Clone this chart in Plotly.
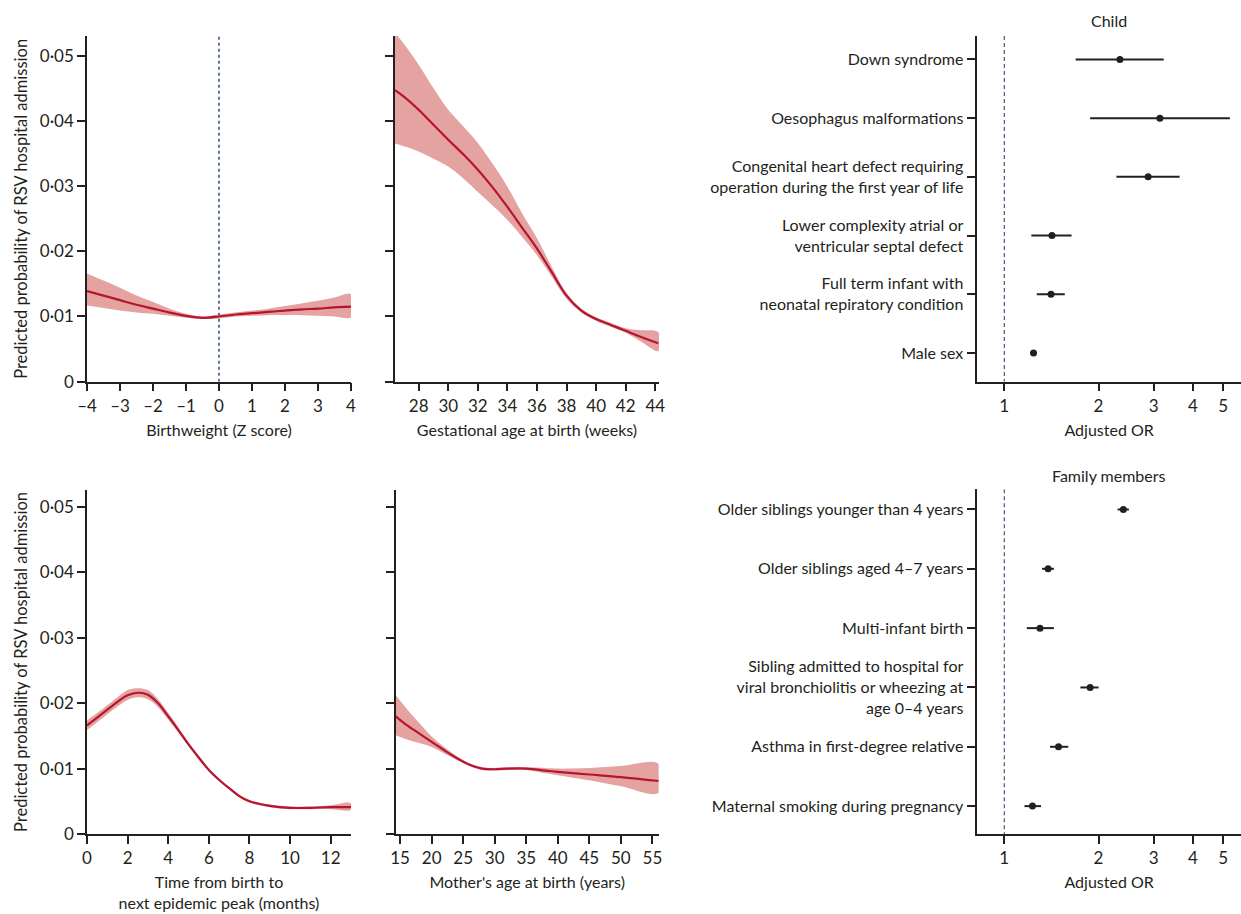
import math
import plotly.graph_objects as go

# ---------------- data ----------------
# Birthweight (Z score)
bw_x = [-4, -3.5, -3, -2.5, -2, -1.5, -1, -0.5, 0, 0.5, 1, 1.5, 2, 2.5, 3, 3.5, 4]
bw_mid = [0.0139, 0.0132, 0.0125, 0.0118, 0.0112, 0.0106, 0.0101, 0.0098, 0.0100, 0.0103,
          0.0105, 0.0107, 0.0109, 0.0111, 0.0112, 0.0114, 0.0115]
bw_lo = [0.0117, 0.0113, 0.0109, 0.0106, 0.0104, 0.0101, 0.0098, 0.0096, 0.0097, 0.0100,
         0.0101, 0.0102, 0.0102, 0.0102, 0.0101, 0.0100, 0.0099]
bw_hi = [0.0166, 0.0155, 0.0144, 0.0132, 0.0122, 0.0112, 0.0104, 0.0100, 0.0103, 0.0106,
         0.0109, 0.0112, 0.0116, 0.0120, 0.0124, 0.0129, 0.0134]

# Gestational age at birth (weeks)
ga_x = [26.4, 27, 28, 29, 30, 31, 32, 33, 34, 35, 36, 37, 38, 39, 40, 41, 42, 43, 44.2]
ga_mid = [0.0447, 0.0437, 0.0417, 0.0394, 0.0371, 0.0349, 0.0325, 0.0298, 0.0268, 0.0236,
          0.0204, 0.0168, 0.0132, 0.0109, 0.0096, 0.0087, 0.0078, 0.0069, 0.0059]
ga_lo = [0.0365, 0.0361, 0.0353, 0.0342, 0.0330, 0.0312, 0.0291, 0.0270, 0.0248, 0.0222,
         0.0194, 0.0161, 0.0127, 0.0106, 0.0093, 0.0084, 0.0075, 0.0062, 0.0047]
ga_hi = [0.0535, 0.0518, 0.0486, 0.0450, 0.0417, 0.0392, 0.0366, 0.0334, 0.0299, 0.0258,
         0.0220, 0.0176, 0.0136, 0.0112, 0.0099, 0.0090, 0.0082, 0.0079, 0.0076]

# Time from birth to next epidemic peak (months)
tm_x = [0, 0.5, 1, 1.5, 2, 2.5, 3, 3.5, 4, 4.5, 5, 5.5, 6, 6.5, 7, 7.5, 8, 9, 10, 11, 12, 13]
tm_mid = [0.0166, 0.0178, 0.0190, 0.0202, 0.0212, 0.0216, 0.0213, 0.0200, 0.0180, 0.0159,
          0.0137, 0.0117, 0.0098, 0.0083, 0.0070, 0.0058, 0.0050, 0.0043, 0.0040, 0.0040,
          0.0041, 0.0041]
tm_lo = [0.0159, 0.0171, 0.0183, 0.0195, 0.0205, 0.0209, 0.0206, 0.0194, 0.0175, 0.0155,
         0.0134, 0.0114, 0.0096, 0.0081, 0.0068, 0.0056, 0.0048, 0.0041, 0.0038, 0.0038,
         0.0038, 0.0037]
tm_hi = [0.0174, 0.0185, 0.0197, 0.0209, 0.0220, 0.0223, 0.0220, 0.0206, 0.0185, 0.0163,
         0.0140, 0.0120, 0.0100, 0.0085, 0.0072, 0.0060, 0.0052, 0.0045, 0.0042, 0.0042,
         0.0044, 0.0047]

# Mother's age at birth (years)
ma_x = [14.3, 16, 18, 20, 22, 24, 26, 28, 30, 32, 35, 38, 40, 45, 50, 56]
ma_mid = [0.0180, 0.0167, 0.0154, 0.0141, 0.0128, 0.0116, 0.0106, 0.0100, 0.0099, 0.0100,
          0.0100, 0.0097, 0.0095, 0.0091, 0.0087, 0.0081]
ma_lo = [0.0151, 0.0145, 0.0139, 0.0133, 0.0123, 0.0113, 0.0104, 0.0098, 0.0097, 0.0098,
         0.0098, 0.0093, 0.0090, 0.0082, 0.0073, 0.0063]
ma_hi = [0.0212, 0.0192, 0.0170, 0.0149, 0.0133, 0.0119, 0.0108, 0.0102, 0.0101, 0.0102,
         0.0102, 0.0101, 0.0100, 0.0101, 0.0104, 0.0107]

# Forest plot: Child
child_labels = ["Down syndrome",
                "Oesophagus malformations",
                "Congenital heart defect requiring<br>operation during the first year of life",
                "Lower complexity atrial or<br>ventricular septal defect",
                "Full term infant with<br>neonatal repiratory condition",
                "Male sex"]
child_or = [2.34, 3.14, 2.88, 1.42, 1.41, 1.24]
child_lo = [1.69, 1.88, 2.28, 1.22, 1.27, 1.21]
child_hi = [3.23, 5.25, 3.63, 1.64, 1.56, 1.27]

# Forest plot: Family members
fam_labels = ["Older siblings younger than 4 years",
              "Older siblings aged 4–7 years",
              "Multi-infant birth",
              "Sibling admitted to hospital for<br>viral bronchiolitis or wheezing at<br>age 0–4 years",
              "Asthma in first-degree relative",
              "Maternal smoking during pregnancy"]
fam_or = [2.40, 1.38, 1.30, 1.88, 1.49, 1.23]
fam_lo = [2.30, 1.32, 1.18, 1.75, 1.40, 1.16]
fam_hi = [2.50, 1.44, 1.44, 2.00, 1.60, 1.31]

prob_ticks = [0, 0.01, 0.02, 0.03, 0.04, 0.05]
prob_ticktext = ["0", "0·01", "0·02", "0·03", "0·04", "0·05"]
bw_ticks = [-4, -3, -2, -1, 0, 1, 2, 3, 4]
bw_ticktext = ["–4", "–3", "–2", "–1", "0", "1", "2", "3", "4"]
ga_ticks = [28, 30, 32, 34, 36, 38, 40, 42, 44]
tm_ticks = [0, 2, 4, 6, 8, 10, 12]
ma_ticks = [15, 20, 25, 30, 35, 40, 45, 50, 55]
or_ticks = [1, 2, 3, 4, 5]

# ---------------- styling ----------------
W, H = 1241, 914
FONT = "Lato"
INK = "#231f20"
LINE_RED = "#b5152f"
BAND = "#e4a2a1"
TICK_SIZE = 17
TEXT_SIZE = 16


def px_x(a, b):
    return [a / W, b / W]


def px_y(top, bottom):
    return [1 - bottom / H, 1 - top / H]


fig = go.Figure()


def add_curve(xs, mid, lo, hi, ax):
    fig.add_trace(go.Scatter(
        x=list(xs) + list(xs)[::-1], y=list(hi) + list(lo)[::-1],
        fill="toself", fillcolor=BAND, line=dict(width=0, shape="spline"),
        mode="lines", hoverinfo="skip", showlegend=False,
        xaxis="x" + ax, yaxis="y" + ax))
    fig.add_trace(go.Scatter(
        x=xs, y=mid, mode="lines", line=dict(color=LINE_RED, width=2.2, shape="spline"),
        showlegend=False, xaxis="x" + ax, yaxis="y" + ax))


def add_forest(ors, lo, hi, ax):
    ys = list(range(len(ors)))
    fig.add_trace(go.Scatter(
        x=ors, y=ys, mode="markers",
        marker=dict(color=INK, size=7),
        error_x=dict(type="data", symmetric=False,
                     array=[h - o for h, o in zip(hi, ors)],
                     arrayminus=[o - l for o, l in zip(ors, lo)],
                     color=INK, thickness=2, width=0),
        showlegend=False, xaxis="x" + ax, yaxis="y" + ax))


add_curve(bw_x, bw_mid, bw_lo, bw_hi, "")
add_curve(ga_x, ga_mid, ga_lo, ga_hi, "2")
add_forest(child_or, child_lo, child_hi, "3")
add_curve(tm_x, tm_mid, tm_lo, tm_hi, "4")
add_curve(ma_x, ma_mid, ma_lo, ma_hi, "5")
add_forest(fam_or, fam_lo, fam_hi, "6")

# dashed reference lines
fig.add_trace(go.Scatter(x=[0, 0], y=[0, 0.053], mode="lines",
                         line=dict(color="#4d6d92", width=1.8, dash="3px,3px"),
                         showlegend=False, xaxis="x", yaxis="y"))
fig.add_trace(go.Scatter(x=[1, 1], y=[-0.40, 5.49], mode="lines",
                         line=dict(color="#2b4a70", width=1.1, dash="4px,3px"),
                         showlegend=False, xaxis="x3", yaxis="y3"))
fig.add_trace(go.Scatter(x=[1, 1], y=[-0.34, 5.47], mode="lines",
                         line=dict(color="#2b4a70", width=1.1, dash="4px,3px"),
                         showlegend=False, xaxis="x6", yaxis="y6"))

base_axis = dict(showline=True, linecolor=INK, linewidth=1.5, ticks="outside",
                 ticklen=8, tickwidth=1.5, tickcolor=INK, showgrid=False, zeroline=False,
                 automargin=False,
                 tickfont=dict(family=FONT, size=TICK_SIZE, color=INK),
                 title_font=dict(family=FONT, size=TEXT_SIZE, color=INK))

top_y = px_y(36, 381.7)
bot_y = px_y(490, 834)

layout = dict(
    width=W, height=H, margin=dict(l=0, r=0, t=0, b=0, autoexpand=False),
    paper_bgcolor="white", plot_bgcolor="white",
    font=dict(family=FONT, size=TEXT_SIZE, color=INK),
    showlegend=False,
)

# panel 1: birthweight
layout["xaxis"] = dict(base_axis, domain=px_x(87, 351), anchor="y", range=[-4, 4],
                       tickvals=bw_ticks, ticktext=bw_ticktext,
                       title=dict(text="Birthweight (Z score)", standoff=10))
layout["yaxis"] = dict(base_axis, domain=top_y, anchor="x", range=[0, 0.053],
                       tickvals=prob_ticks, ticktext=prob_ticktext,
                       title=dict(text="Predicted probability of RSV hospital admission", standoff=8,
                                  font=dict(family=FONT, size=16.5, color=INK)))
# panel 2: gestational age
layout["xaxis2"] = dict(base_axis, domain=px_x(395, 659), anchor="y2", range=[26.4, 44.25],
                        tickvals=ga_ticks,
                        title=dict(text="Gestational age at birth (weeks)", standoff=10))
layout["yaxis2"] = dict(base_axis, domain=top_y, anchor="x2", range=[0, 0.053],
                        tickvals=prob_ticks, showticklabels=False)
# panel 3: child forest
layout["xaxis3"] = dict(base_axis, domain=px_x(977.3, W), anchor="y3", type="log",
                        range=[math.log10(0.82), math.log10(5.7)],
                        tickvals=or_ticks, ticktext=[str(v) for v in or_ticks],
                        title=dict(text="Adjusted OR", standoff=10))
layout["yaxis3"] = dict(base_axis, domain=top_y, anchor="x3", range=[5.49, -0.40],
                        tickvals=list(range(len(child_labels))), ticktext=child_labels,
                        ticklen=9, tickfont=dict(family=FONT, size=TEXT_SIZE, color=INK))
# panel 4: time to epidemic peak
layout["xaxis4"] = dict(base_axis, domain=px_x(87, 351), anchor="y4", range=[0, 13],
                        tickvals=tm_ticks,
                        title=dict(text="Time from birth to<br>next epidemic peak (months)", standoff=10))
layout["yaxis4"] = dict(base_axis, domain=bot_y, anchor="x4", range=[0, 0.0526],
                        tickvals=prob_ticks, ticktext=prob_ticktext,
                        title=dict(text="Predicted probability of RSV hospital admission", standoff=8,
                                   font=dict(family=FONT, size=16.5, color=INK)))
# panel 5: mother's age
layout["xaxis5"] = dict(base_axis, domain=px_x(395.7, 658.7), anchor="y5", range=[14.3, 56],
                        tickvals=ma_ticks,
                        title=dict(text="Mother's age at birth (years)", standoff=10))
layout["yaxis5"] = dict(base_axis, domain=bot_y, anchor="x5", range=[0, 0.0526],
                        tickvals=prob_ticks, showticklabels=False)
# panel 6: family forest
layout["xaxis6"] = dict(base_axis, domain=px_x(977.3, W), anchor="y6", type="log",
                        range=[math.log10(0.82), math.log10(5.7)],
                        tickvals=or_ticks, ticktext=[str(v) for v in or_ticks],
                        title=dict(text="Adjusted OR", standoff=10))
layout["yaxis6"] = dict(base_axis, domain=px_y(489.3, 834), anchor="x6", range=[5.47, -0.34],
                        tickvals=list(range(len(fam_labels))), ticktext=fam_labels,
                        ticklen=9, tickfont=dict(family=FONT, size=TEXT_SIZE, color=INK))

layout["annotations"] = [
    dict(text="Child", x=(977.3 + W) / 2 / W, y=1 - 20.7 / H, xref="paper", yref="paper",
         showarrow=False, font=dict(family=FONT, size=TEXT_SIZE, color=INK),
         xanchor="center", yanchor="middle"),
    dict(text="Family members", x=(977.3 + W) / 2 / W, y=1 - 475 / H, xref="paper", yref="paper",
         showarrow=False, font=dict(family=FONT, size=TEXT_SIZE, color=INK),
         xanchor="center", yanchor="middle"),
]

fig.update_layout(**layout)
fig.write_html("out.html", config={"displayModeBar": False},
               post_script="document.body.style.margin='0';")
